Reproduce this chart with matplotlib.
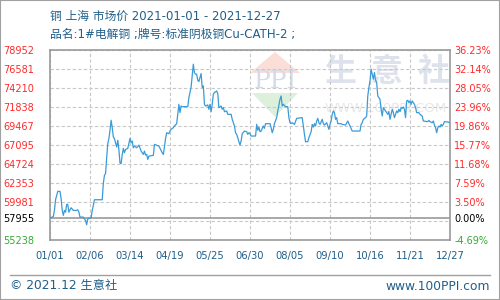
import matplotlib
matplotlib.use("Agg")
import matplotlib.pyplot as plt
from matplotlib.patches import Polygon, Rectangle
from matplotlib.lines import Line2D

plt.rcParams["font.family"] = ["DejaVu Sans", "Noto Sans CJK SC"]

# day offset from 2021-01-01, price (yuan/ton)
days = [
    0, 3, 4, 5, 7, 9, 10, 11, 12, 13, 14, 15, 16, 17, 18, 19, 21, 24, 25, 26,
    27, 30, 31, 32, 33, 34, 37, 38, 39, 40, 47, 48, 49, 50, 51, 52, 53, 54, 55, 56,
    57, 58, 60, 61, 62, 63, 64, 65, 66, 67, 68, 70, 72, 73, 74, 75, 76, 78, 80, 82,
    84, 85, 86, 87, 88, 89, 93, 94, 98, 101, 102, 103, 104, 105, 107, 108, 109, 111, 112, 114,
    115, 116, 117, 118, 119, 124, 125, 126, 127, 128, 129, 130, 131, 132, 133, 134, 136, 137, 138, 139,
    140, 142, 143, 144, 145, 146, 147, 148, 150, 151, 152, 154, 155, 156, 157, 159, 160, 163, 164, 166,
    167, 168, 169, 170, 171, 172, 173, 175, 177, 178, 179, 180, 181, 185, 186, 187, 188, 189, 190, 192,
    193, 194, 198, 199, 200, 201, 202, 204, 205, 207, 208, 209, 210, 212, 214, 215, 216, 217, 218, 220,
    222, 227, 228, 229, 230, 232, 233, 235, 236, 237, 238, 239, 240, 241, 242, 243, 245, 246, 247, 249,
    250, 251, 252, 253, 254, 255, 256, 257, 258, 259, 262, 263, 266, 268, 269, 270, 272, 279, 280, 281,
    282, 284, 285, 286, 287, 288, 289, 290, 291, 292, 293, 294, 295, 296, 297, 298, 299, 300, 301, 302,
    303, 304, 305, 306, 307, 308, 309, 310, 311, 312, 313, 314, 315, 316, 317, 318, 319, 320, 321, 322,
    323, 324, 325, 326, 328, 329, 330, 332, 333, 335, 336, 340, 341, 342, 344, 345, 346, 347, 348, 349,
    350, 351, 352, 353, 354, 355, 358, 360,
]
prices = [
    57955, 58170, 58920, 60250, 61290, 61290, 60380, 58920, 58300, 58920, 58710, 59670, 59670, 58710, 59000, 59250, 58920, 58920, 59000, 58710,
    58090, 58090, 57880, 57670, 57130, 57880, 58000, 58920, 59540, 60250, 60250, 62300, 63290, 63500, 65500, 67240, 67860, 68900, 70150, 69240,
    68070, 67860, 66820, 67650, 66500, 64800, 64750, 65850, 66640, 66100, 66510, 66640, 67890, 67350, 67550, 66720, 66930, 66720, 67050, 66310,
    65890, 66310, 65810, 65890, 65270, 65680, 65770, 67140, 66930, 66100, 65890, 66810, 67890, 68590, 68470, 68800, 69010, 69220, 69430, 69720,
    70880, 72130, 71090, 71920, 71840, 71840, 72960, 73590, 74290, 75670, 77120, 76080, 75870, 75870, 75130, 74960, 75960, 74210, 74420, 72130,
    71920, 72050, 71510, 72130, 71220, 72130, 73380, 73590, 73790, 73460, 71710, 71920, 71510, 71710, 71220, 71300, 70880, 70880, 70260, 69430,
    68590, 68390, 67970, 67470, 67060, 67550, 68470, 68800, 68720, 68390, 68590, 68470, 68180, 68180, 69630, 68890, 69300, 68720, 68800, 69430,
    69140, 69720, 69720, 69220, 68590, 69010, 69720, 70470, 71300, 72750, 73170, 71920, 72130, 71840, 71840, 70470, 69840, 69720, 69840, 69630,
    70380, 70470, 69430, 68390, 67470, 67470, 67970, 68720, 69630, 69300, 69720, 69430, 70050, 70380, 69840, 69630, 70260, 69720, 69550, 69840,
    69430, 69010, 69630, 70050, 70880, 71300, 71090, 70260, 70470, 69720, 69720, 69630, 69550, 70050, 69720, 69430, 68800, 68800, 69630, 69840,
    70260, 70470, 70670, 73170, 74210, 75040, 76500, 75870, 75250, 76080, 75130, 74830, 73170, 72960, 72750, 71510, 70670, 71710, 71510, 71300,
    71090, 70880, 71220, 70260, 70880, 71510, 71090, 70470, 70880, 71300, 71090, 71510, 71220, 71710, 71630, 71800, 71510, 70470, 72550, 72630,
    72340, 72550, 72130, 72550, 72130, 71710, 71090, 71090, 70880, 70670, 70050, 69970, 70130, 69970, 69840, 70050, 69550, 69220, 68590, 69220,
    69430, 69300, 69630, 69430, 69630, 69970, 69930, 69840,
]

base_price = 57955
y_ticks = [55238, 57610, 59981, 62353, 64724, 67095, 69467, 71838, 74210, 76581, 78952]
y_tick_labels = ["55238", "", "59981", "62353", "64724", "67095", "69467", "71838", "74210", "76581", "78952"]
pct_labels = ["-4.69%", "", "3.50%", "7.59%", "11.68%", "15.77%", "19.86%", "23.96%", "28.05%", "32.14%", "36.23%"]
x_ticks = [0, 36, 72, 108, 144, 180, 216, 252, 288, 324, 360]
x_tick_labels = ["01/01", "02/06", "03/14", "04/19", "05/25", "06/30", "08/05", "09/10", "10/16", "11/21", "12/27"]

title = "铜 上海 市场价 2021-01-01 - 2021-12-27"
subtitle = "品名:1#电解铜 ;牌号:标准阴极铜Cu-CATH-2 ;"

BLUE_TXT = "#1f5f8b"
RED = "#ff2a2a"
GREEN = "#33aa33"
FRAME = "#9a9a9a"
GRID = "#c8c8c8"


def px(x, y):
    # figure pixel (from top-left) -> figure fraction
    return x / 500, 1 - y / 300


fig = plt.figure(figsize=(5, 3), dpi=100)
ax = fig.add_axes([0.1, 0.2, 0.8, 0.635])
ax.set_facecolor("none")

# watermark (behind the axes)
wm = dict(transform=fig.transFigure, zorder=-5)
fig.patches.append(Polygon([px(275, 52), px(250, 73), px(300, 73)], closed=True,
                           facecolor="#fbded8", edgecolor="none", **wm))
fig.patches.append(Polygon([px(252, 93), px(298, 93), px(275, 117)], closed=True,
                           facecolor="#dcf0dc", edgecolor="none", **wm))
fig.text(*px(275, 82), "PPI", ha="center", va="center", fontsize=18, family="DejaVu Serif",
         color="#d3dbea", **wm)
for cx, ch in zip([340, 387, 434], "生意社"):
    fig.text(*px(cx, 72), ch, ha="center", va="center", fontsize=23, fontweight="bold",
             family="Noto Sans CJK SC", color="#dde2ec", **wm)
fig.text(*px(386, 108), "WWW.100PPI.COM", ha="center", va="center", fontsize=9.5,
         color="#e8e8e8", **wm)

ax.plot(days, prices, color="#3a9bd8", linewidth=0.9, zorder=3)
ax.axhline(base_price, color=FRAME, linewidth=1.2, zorder=2)

ax.set_xlim(x_ticks[0], x_ticks[-1])
ax.set_ylim(y_ticks[0], y_ticks[-1])

ax.set_xticks(x_ticks)
ax.set_xticklabels(x_tick_labels)
ax.set_yticks(y_ticks)
ax.set_yticklabels(y_tick_labels)
ax.set_yticks([base_price], minor=True)
ax.set_yticklabels([str(base_price)], minor=True)
ax.grid(True, which="major", color=GRID, linestyle=(0, (3, 2)), linewidth=0.8)

ax.tick_params(axis="y", which="both", length=0, pad=11.5, labelsize=7, labelcolor=RED)
ax.tick_params(axis="x", length=0, pad=8, labelsize=7.2, labelcolor=BLUE_TXT)
for lab, v in zip(ax.get_yticklabels(), y_ticks):
    lab.set_color(GREEN if v < base_price else RED)
ax.get_yticklabels(minor=True)[0].set_color("black")

for sp in ax.spines.values():
    sp.set_color(FRAME)
    sp.set_linewidth(1.2)

ax2 = ax.twinx()
ax2.set_ylim(ax.get_ylim())
ax2.set_yticks(y_ticks)
ax2.set_yticklabels(pct_labels)
ax2.set_yticks([base_price], minor=True)
ax2.set_yticklabels(["0.00%"], minor=True)
ax2.tick_params(axis="y", which="both", length=0, pad=3, labelsize=7)
for lab, v in zip(ax2.get_yticklabels(), y_ticks):
    lab.set_color(GREEN if v < base_price else RED)
ax2.get_yticklabels(minor=True)[0].set_color("black")
for sp in ax2.spines.values():
    sp.set_visible(False)

# titles
fig.text(*px(50, 16), title, ha="left", va="center", fontsize=8.5, color=BLUE_TXT)
fig.text(*px(50, 34), subtitle, ha="left", va="center", fontsize=8.5, color=BLUE_TXT)

# footer
fig.add_artist(Line2D([10 / 500, 490 / 500], [1 - 275 / 300] * 2, transform=fig.transFigure,
                      color="#a0a0a0", linewidth=1))
fig.text(*px(10, 286), "© 2021.12 生意社", ha="left", va="center", fontsize=8.8, color=BLUE_TXT)
fig.text(*px(490, 286), "www.100PPI.com", ha="right", va="center", fontsize=8.8, color=BLUE_TXT)
fig.add_artist(Rectangle((0, 0), 1, 1, transform=fig.transFigure, fill=False,
                         edgecolor="#a0a0a0", linewidth=1.5))

fig.savefig("out.png", dpi=100)
